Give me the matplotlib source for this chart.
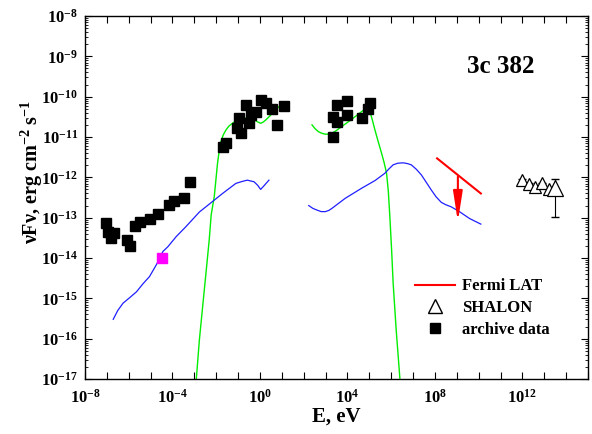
import numpy as np
import matplotlib
matplotlib.use("Agg")
import matplotlib.pyplot as plt
from matplotlib.lines import Line2D
from matplotlib.ticker import FixedLocator, NullFormatter, LogLocator

plt.rcParams['font.family'] = ['Liberation Serif', 'DejaVu Serif']
plt.rcParams['font.weight'] = 'bold'
plt.rcParams['mathtext.fontset'] = 'custom'
plt.rcParams['mathtext.rm'] = 'Liberation Serif:bold'
plt.rcParams['mathtext.bf'] = 'Liberation Serif:bold'
plt.rcParams['mathtext.it'] = 'Liberation Serif:bold:italic'
plt.rcParams['mathtext.default'] = 'bf'

# ---- data (log10 E [eV], log10 nuFnu [erg cm^-2 s^-1]) ----
archive_logE = [-7.06, -6.97, -6.79, -6.67, -6.10, -5.95, -5.73, -5.50, -5.05, -4.67,
                -4.14, -3.91, -3.49, -3.20,
                -1.56, -1.71, -1.03, -0.88, -0.95, -0.50, -0.42, -0.20, -0.65, 0.03,
                0.26, 0.53, 0.76, 1.09,
                3.51, 3.97, 3.36, 3.51, 3.97, 3.36, 4.65, 4.92, 5.03]
archive_logF = [-13.14, -13.35, -13.51, -13.39, -13.55, -13.70, -13.21, -13.10, -13.04, -12.92,
                -12.69, -12.58, -12.52, -12.11,
                -11.16, -11.26, -10.78, -10.91, -10.54, -10.66, -10.45, -10.37, -10.21, -10.08,
                -10.16, -10.31, -10.70, -10.23,
                -10.21, -10.10, -10.50, -10.62, -10.45, -10.99, -10.54, -10.31, -10.16]

magenta_logE = [-4.5]
magenta_logF = [-14.0]

green1_logE = [-2.91, -2.77, -2.59, -2.41, -2.32, -2.23, -2.09, -1.94, -1.86, -1.79, -1.68,
               -1.56, -1.42, -1.26, -1.08, -0.88, -0.65, -0.42, -0.25, -0.12, 0.03, 0.15,
               0.26, 0.45, 0.64, 0.83, 1.01, 1.09]
green1_logF = [-17.0, -16.03, -15.04, -14.05, -13.55, -12.93, -12.48, -11.65, -11.33, -11.12,
               -10.95, -10.83, -10.73, -10.66, -10.59, -10.55, -10.53, -10.54, -10.58, -10.62,
               -10.66, -10.63, -10.58, -10.48, -10.37, -10.27, -10.18, -10.16]

green2_logE = [2.38, 2.53, 2.68, 2.84, 2.99, 3.14, 3.29, 3.52, 3.74, 4.20, 4.65, 4.80, 4.88,
               4.96, 5.03, 5.14, 5.26, 5.40, 5.56, 5.68, 5.79, 5.87, 5.94, 6.02, 6.09, 6.23, 6.40]
green2_logF = [-10.70, -10.80, -10.87, -10.91, -10.93, -10.93, -10.91, -10.83, -10.74, -10.56,
               -10.37, -10.31, -10.29, -10.31, -10.37, -10.58, -10.83, -11.10, -11.40, -11.64,
               -11.90, -12.35, -12.98, -13.80, -14.62, -15.79, -17.0]

blue1_logE = [-6.71, -6.50, -6.26, -5.95, -5.65, -5.35, -5.05, -4.74, -4.59, -4.44, -4.21,
              -3.83, -3.38, -2.77, -2.17, -1.71, -1.10, -0.80, -0.58, -0.27, -0.10, 0.03,
              0.20, 0.41]
blue1_logF = [-15.52, -15.30, -15.12, -14.98, -14.84, -14.64, -14.46, -14.17, -14.01, -13.84,
              -13.72, -13.47, -13.22, -12.86, -12.60, -12.40, -12.15, -12.10, -12.07, -12.11,
              -12.20, -12.30, -12.20, -12.07]

blue2_logE = [2.23, 2.42, 2.60, 2.80, 2.99, 3.15, 3.29, 3.90, 4.65, 5.26, 5.71, 5.90, 6.09,
              6.30, 6.55, 6.75, 6.92, 7.15, 7.38, 7.60, 7.83, 8.05, 8.29, 8.50, 8.74, 9.12,
              9.58, 10.10]
blue2_logF = [-12.70, -12.77, -12.81, -12.85, -12.85, -12.82, -12.77, -12.52, -12.27, -12.08,
              -11.90, -11.79, -11.69, -11.65, -11.64, -11.66, -11.69, -11.80, -11.94, -12.12,
              -12.31, -12.48, -12.62, -12.68, -12.73, -12.85, -13.02, -13.16]

fermi_logE = [8.10, 10.10]
fermi_logF = [-11.53, -12.40]
fermi_ul_logE = 9.05
fermi_ul_logF = [-11.98, -13.10]

shalon_logE = [12.00, 12.32, 12.57, 12.91, 13.21, 13.51]
shalon_logF = [-12.07, -12.17, -12.24, -12.15, -12.28, -12.26]
shalon_err_lo = [0.08, 0.08, 0.08, 0.08, 0.08, 0.73]
shalon_err_hi = [0.02, 0.02, 0.02, 0.02, 0.02, 0.22]

xtick_exps = [-8, -4, 0, 4, 8, 12]
ytick_exps = list(range(-17, -7))

p = lambda a: 10.0 ** np.asarray(a, dtype=float)

fig = plt.figure(figsize=(5.92, 4.34), dpi=100)
ax = fig.add_axes([85/592, 55/434, 503/592, 363/434])
ax.set_xscale('log')
ax.set_yscale('log')
ax.set_xlim(1e-8, 1e15)
ax.set_ylim(1e-17, 1e-8)

ax.plot(p(green1_logE), p(green1_logF), color='#00ee00', lw=1.0)
ax.plot(p(green2_logE), p(green2_logF), color='#00ee00', lw=1.0)
ax.plot(p(blue1_logE), p(blue1_logF), color='#1f1fff', lw=0.9)
ax.plot(p(blue2_logE), p(blue2_logF), color='#1f1fff', lw=0.9)

ax.plot(p(archive_logE), p(archive_logF), 's', color='black', ms=6.5, ls='none')
ax.plot(p(magenta_logE), p(magenta_logF), 's', color='#ff00ff', ms=7.5, ls='none')

ax.plot(p(fermi_logE), p(fermi_logF), color='red', lw=1.5)
ax.annotate('', xy=(p(fermi_ul_logE), p(fermi_ul_logF[1])),
            xytext=(p(fermi_ul_logE), p(fermi_ul_logF[0])),
            arrowprops=dict(arrowstyle='-|>,head_length=1.8,head_width=0.28',
                            color='red', lw=1.5, shrinkA=0, shrinkB=0))

sE = p(shalon_logE); sF = p(shalon_logF)
lo = sF - p(np.asarray(shalon_logF) - np.asarray(shalon_err_lo))
hi = p(np.asarray(shalon_logF) + np.asarray(shalon_err_hi)) - sF
ax.errorbar(sE, sF, yerr=[lo, hi], fmt='none', ecolor='black', elinewidth=0.8, capsize=3)
sizes = [9, 9, 9, 9, 9, 12]
for e, f, s in zip(sE, sF, sizes):
    ax.plot([e], [f], '^', mfc='white', mec='black', ms=s, mew=0.9)

# ticks
ax.set_xticks(p(range(-8, 16)))
ax.set_xticklabels([r'$10^{%d}$' % k if k in xtick_exps else '' for k in range(-8, 16)])
ax.xaxis.set_minor_locator(FixedLocator([]))
ax.set_yticks(p(ytick_exps))
ax.set_yticklabels([r'$10^{%d}$' % k for k in ytick_exps])
ax.yaxis.set_minor_locator(LogLocator(base=10, subs=np.arange(2, 10), numticks=100))
ax.yaxis.set_minor_formatter(NullFormatter())
ax.tick_params(which='both', direction='in', top=True, right=True, labelsize=12)
ax.tick_params(axis='x', which='major', pad=7)
ax.tick_params(axis='y', which='major', pad=5)
ax.tick_params(which='major', length=5, width=0.8)
ax.tick_params(which='minor', length=2.5, width=0.6)
for s in ax.spines.values():
    s.set_linewidth(1.0)

ax.set_xlabel('E, eV', fontsize=15, fontweight='bold', labelpad=0)
ax.set_ylabel(r'νFν, erg cm$^{-2}$ s$^{-1}$', fontsize=14.5, fontweight='bold')
ax.yaxis.set_label_coords(-0.08, 0.57)

ax.text(0.76, 0.86, '3c 382', transform=ax.transAxes, fontsize=18, fontweight='bold',
        va='center')

handles = [Line2D([], [], color='red', lw=1.5),
           Line2D([], [], marker='^', mfc='white', mec='black', ls='none', ms=10),
           Line2D([], [], marker='s', color='black', ls='none', ms=7)]
ax.legend(handles, ['Fermi LAT', 'SHALON', 'archive data'], loc='upper left',
          bbox_to_anchor=(0.64, 0.30), frameon=False, fontsize=12,
          handlelength=2.4, labelspacing=0.35, handletextpad=0.4, borderpad=0)

fig.savefig('out.png', dpi=100)
